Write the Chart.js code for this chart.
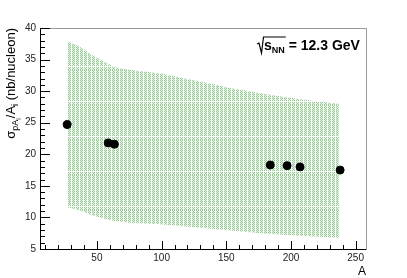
<!DOCTYPE html>
<html>
<head>
<meta charset="utf-8">
<script src="https://cdn.jsdelivr.net/npm/chart.js@4.4.1/dist/chart.umd.min.js"></script>
<style>
  body { margin: 0; background: #fff; }
  canvas { display: block; }
</style>
</head>
<body>
<canvas id="c" width="407" height="278"></canvas>
<script>
// measured points
var nucA = [27, 58.7, 63.5, 184, 197, 207, 238];
var sigma = [24.7, 21.8, 21.6, 18.3, 18.2, 18.0, 17.5];

// model band
var bandA = [27, 37, 47, 57, 65, 75, 99, 137, 155, 181, 207, 237];
var bandHigh = [37.9, 37.0, 35.6, 34.5, 33.7, 33.4, 32.8, 31.2, 30.4, 29.5, 28.7, 28.0];
var bandLow = [11.6, 11.1, 10.3, 9.7, 9.4, 9.15, 8.9, 8.25, 7.9, 7.4, 7.1, 6.8];

var xTicks = [50, 100, 150, 200, 250];
var yTicks = [5, 10, 15, 20, 25, 30, 35, 40];

var FONT = '"Liberation Sans", Arial, Helvetica, sans-serif';

function makePattern() {
	var pc = document.createElement('canvas');
	pc.width = 4; pc.height = 35;
	var p = pc.getContext('2d');
	p.fillStyle = '#fff';
	p.fillRect(0, 0, 4, 35);
	for (var y = 0; y < 35; y++) {
		for (var x = 0; x < 3; x++) {
			if (y == 31) continue;
			p.fillStyle = ((x + y) % 2 == 0) ? '#93cb93' : '#e6f3e6';
			p.fillRect(x, y, 1, 1);
		}
	}
	return document.getElementById('c').getContext('2d').createPattern(pc, 'repeat');
}

function xy(xs, ys) {
	var out = [];
	for (var i = 0; i < xs.length; i++) out.push({x: xs[i], y: ys[i]});
	return out;
}

var rootAxes = {
	id: 'rootAxes',
	afterDraw: function(chart) {
		var ctx = chart.ctx;
		var a = chart.chartArea;
		var xs = chart.scales.x, ys = chart.scales.y;
		ctx.save();
		// frame
		ctx.lineWidth = 1;
		ctx.strokeStyle = '#999';
		ctx.beginPath();
		ctx.moveTo(a.left, a.top + 0.5); ctx.lineTo(a.right + 0.5, a.top + 0.5);
		ctx.lineTo(a.right + 0.5, a.bottom);
		ctx.stroke();
		ctx.strokeStyle = '#000';
		ctx.beginPath();
		ctx.moveTo(a.left + 0.5, a.top); ctx.lineTo(a.left + 0.5, a.bottom + 0.5);
		ctx.lineTo(a.right + 0.5, a.bottom + 0.5);
		ctx.stroke();
		// y ticks
		ctx.beginPath();
		for (var v = 5; v <= 40; v++) {
			var py = Math.round(ys.getPixelForValue(v)) + 0.5;
			var len = (v % 5 == 0) ? 10 : 5;
			ctx.moveTo(a.left, py); ctx.lineTo(a.left + len, py);
		}
		// x ticks
		for (var t = 10; t <= 250; t += 10) {
			var px = Math.round(xs.getPixelForValue(t)) + 0.5;
			var l2 = (t % 50 == 0) ? 8 : 4;
			ctx.moveTo(px, a.bottom); ctx.lineTo(px, a.bottom - l2);
		}
		ctx.stroke();

		// x title
		ctx.fillStyle = '#000';
		ctx.font = '12px ' + FONT;
		ctx.textAlign = 'right';
		ctx.textBaseline = 'alphabetic';
		ctx.fillText('A', a.right, 275);

		// y title (rotated, right aligned to top)
		var segs = [
			{t: 'σ', s: 13, d: 0},
			{t: 'pA', s: 9, d: 3},
			{t: 'i', s: 7, d: 6},
			{t: '/A', s: 13, d: 0},
			{t: 'i', s: 9, d: 3},
			{t: ' (nb/nucleon)', s: 13, d: 0}
		];
		ctx.textAlign = 'left';
		var w = 0;
		segs.forEach(function(sg) { ctx.font = sg.s + 'px ' + FONT; w += ctx.measureText(sg.t).width; });
		ctx.save();
		ctx.translate(15, a.top);
		ctx.rotate(-Math.PI / 2);
		var cx = -w;
		segs.forEach(function(sg) {
			ctx.font = sg.s + 'px ' + FONT;
			ctx.fillText(sg.t, cx, sg.d);
			cx += ctx.measureText(sg.t).width;
		});
		ctx.restore();

		// energy label
		var bx = 257, by = 50;
		ctx.font = 'bold 14px ' + FONT;
		var sw = ctx.measureText('s').width;
		ctx.font = 'bold 9px ' + FONT;
		var nw = ctx.measureText('NN').width;
		var xs0 = bx + 7;
		var topY = by - 13;
		ctx.lineWidth = 1.2;
		ctx.beginPath();
		ctx.moveTo(bx, by - 6);
		ctx.lineTo(bx + 2, by - 7);
		ctx.lineTo(bx + 4.5, by + 3);
		ctx.lineTo(bx + 6.5, topY);
		ctx.lineTo(xs0 + sw + nw + 1, topY);
		ctx.stroke();
		ctx.font = 'bold 14px ' + FONT;
		ctx.fillText('s', xs0, by);
		ctx.font = 'bold 9px ' + FONT;
		ctx.fillText('NN', xs0 + sw, by + 3);
		ctx.font = 'bold 14px ' + FONT;
		ctx.fillText(' = 12.3 GeV', xs0 + sw + nw, by);
		ctx.restore();
	}
};

var ctx = document.getElementById('c').getContext('2d');
var chart = new Chart(ctx, {
	type: 'scatter',
	data: {
		datasets: [{
			label: 'data',
			data: xy(nucA, sigma),
			pointRadius: 4,
			pointBackgroundColor: '#000',
			pointBorderColor: '#000',
			order: 0
		}, {
			label: 'high',
			data: xy(bandA, bandHigh),
			showLine: true,
			borderColor: 'rgba(0,0,0,0)',
			borderWidth: 0,
			pointRadius: 0,
			backgroundColor: makePattern(),
			fill: '+1',
			order: 1
		}, {
			label: 'low',
			data: xy(bandA, bandLow),
			showLine: true,
			borderColor: 'rgba(0,0,0,0)',
			borderWidth: 0,
			pointRadius: 0,
			fill: false,
			order: 2
		}]
	},
	options: {
		responsive: false,
		animation: false,
		layout: { padding: { left: 0, top: 28, right: 41, bottom: 0 } },
		plugins: { legend: { display: false }, tooltip: { enabled: false } },
		scales: {
			x: {
				type: 'linear', min: 6, max: 258,
				grid: { display: false, drawTicks: false }, border: { display: false },
				afterFit: function(s) { s.height = 29; },
				afterBuildTicks: function(s) { s.ticks = xTicks.map(function(v) { return {value: v}; }); },
				ticks: { font: { size: 10, family: FONT }, color: '#222', padding: 3, maxRotation: 0 }
			},
			y: {
				type: 'linear', min: 5, max: 40,
				grid: { display: false, drawTicks: false }, border: { display: false },
				afterFit: function(s) { s.width = 40; },
				afterBuildTicks: function(s) { s.ticks = yTicks.map(function(v) { return {value: v}; }); },
				ticks: { font: { size: 10, family: FONT }, color: '#222', padding: 4 }
			}
		}
	},
	plugins: [rootAxes]
});
</script>
</body>
</html>
